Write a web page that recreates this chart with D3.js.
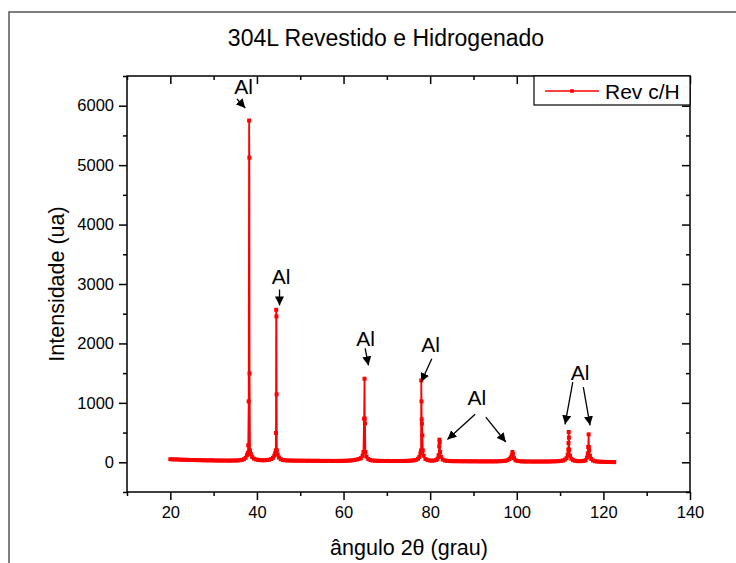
<!DOCTYPE html>
<html><head><meta charset="utf-8">
<script src="https://cdn.jsdelivr.net/npm/d3@7"></script>
<style>body{margin:0;background:#fff}svg{display:block}text{font-family:"Liberation Sans",Arial,sans-serif}</style>
</head><body>
<script>
// ---- data ----
const title = "304L Revestido e Hidrogenado";
const xLabel = "ângulo 2θ (grau)";
const yLabel = "Intensidade (ua)";
const seriesName = "Rev c/H";
const xMajorTicks = [20, 40, 60, 80, 100, 120, 140];
const yMajorTicks = [0, 1000, 2000, 3000, 4000, 5000, 6000];

const angles = [
 20,20.5,21,21.5,22,22.5,23,23.5,24,24.5,25,25.5,26,26.5,27,27.5,28,28.5,29,29.5,
 30,30.5,31,31.5,32,32.5,33,33.5,34,34.5,35,35.5,36,36.5,37,37.4,37.7,37.9,38.0,38.1,
 38.2,38.25,38.3,38.4,38.6,38.9,39.3,39.8,40.3,40.8,41.3,41.8,42.3,42.8,43.3,43.7,44.0,44.2,44.35,44.4,
 44.45,44.5,44.55,44.6,44.8,45.1,45.5,46,46.5,47,47.5,48,48.5,49,49.5,50,50.5,51,51.5,52,
 52.5,53,53.5,54,54.5,55,55.5,56,56.5,57,57.5,58,58.5,59,59.5,60,60.5,61,61.5,62,
 62.5,63,63.5,64,64.4,64.6,64.75,64.85,64.9,64.95,65.05,65.3,65.7,66.2,66.7,67.2,67.7,68.2,68.7,69.2,
 69.7,70.2,70.7,71.2,71.7,72.2,72.7,73.2,73.7,74.2,74.7,75.2,75.7,76.2,76.7,77.2,77.5,77.75,77.9,77.95,
 78.0,78.05,78.1,78.2,78.3,78.5,78.9,79.4,79.9,80.4,80.9,81.4,81.7,81.95,82.1,82.15,82.2,82.3,82.5,82.9,
 83.4,83.9,84.4,84.9,85.4,85.9,86.4,86.9,87.4,87.9,88.4,88.9,89.4,89.9,90.4,90.9,91.4,91.9,92.4,92.9,
 93.4,93.9,94.4,94.9,95.4,95.9,96.4,96.9,97.4,97.9,98.3,98.6,98.85,99.0,99.1,99.35,99.7,100.2,100.7,101.2,
 101.7,102.2,102.7,103.2,103.7,104.2,104.7,105.2,105.7,106.2,106.7,107.2,107.7,108.2,108.7,109.2,109.7,110.2,110.7,111.1,
 111.5,111.75,111.9,111.95,112.0,112.05,112.1,112.3,112.6,113.0,113.5,114.0,114.5,115.0,115.5,115.9,116.2,116.4,116.5,116.6,
 116.65,116.7,116.9,117.2,117.6,118.1,118.6,119.1,119.6,120.1,120.6,121.1,121.6,122.1,122.5
];
const intensity = [
 52,50,47,49,45,44,42,43,40,39,38,39,36,37,35,34,34,33,32,33,
 31,30,30,29,29,30,28,29,28,30,30,32,35,40,52,75,120,160,286,1025,
 5750,5126,1496,200,140,90,62,48,40,36,34,35,38,42,55,75,110,150,200,493,
 2566,2454,1143,200,130,80,52,38,34,31,30,29,28,27,28,26,27,26,25,26,
 25,24,25,24,25,23,24,23,24,23,22,23,22,24,23,24,25,27,30,33,
 38,45,55,70,110,173,735,1406,734,655,173,95,55,38,30,27,25,24,23,22,
 22,23,21,22,21,22,21,22,22,23,24,26,28,33,40,60,90,150,200,1378,
 1025,722,650,454,200,110,55,38,30,27,30,38,60,120,269,381,341,173,90,45,
 30,24,22,20,19,18,19,18,17,18,17,16,17,16,17,16,15,16,15,16,
 15,16,15,16,17,18,19,22,26,35,55,80,118,173,140,70,35,22,18,15,
 14,13,14,13,12,13,12,13,12,13,14,13,14,15,16,18,20,24,30,45,
 70,130,213,324,510,415,213,110,60,35,25,20,19,20,24,35,80,150,257,470,
 257,200,110,55,30,18,12,10,8,7,6,5,5,4,3
];

// annotations: label centre and arrows (from -> to), in data units
const annotations = [
 {text: "Al", at: [36.95, 6330], arrows: [[[35.4, 6113], [37.3, 5961]]]},
 {text: "Al", at: [45.61, 3134], arrows: [[[45.22, 2908], [45.22, 2639]]]},
 {text: "Al", at: [65.11, 2092], arrows: [[[64.99, 1916], [65.76, 1630]]]},
 {text: "Al", at: [80.11, 1983], arrows: [[[80.38, 1743], [77.92, 1350]]]},
 {text: "Al", at: [90.77, 1092], arrows: [[[90.38, 807], [83.99, 382]], [[92.85, 761], [97.46, 341]]]},
 {text: "Al", at: [114.61, 1521], arrows: [[[112.93, 1350], [111.15, 639]], [[115.37, 1266], [116.92, 622]]]}
];

// ---- drawing ----
const W = 736, H = 563;
const L = 127, R = 690, T = 76, B = 492;
const svg = d3.select("body").append("svg").attr("width", W).attr("height", H);

// outer frame
svg.append("rect").attr("x", 9).attr("y", 12).attr("width", W).attr("height", H)
  .attr("fill", "none").attr("stroke", "#555").attr("stroke-width", 1.5);

const x = d3.scaleLinear().domain([10, 140]).range([L, R]);
const y = d3.scaleLinear().domain([-500, 6500]).range([B, T]);

const fontTick = 16.5;
const xMinor = d3.range(10, 141, 10).filter(v => !xMajorTicks.includes(v));
const yMinor = d3.range(-500, 6501, 500).filter(v => !yMajorTicks.includes(v));

function axisG(axis, tx, ty) {
  const g = svg.append("g").attr("transform", `translate(${tx},${ty})`).call(axis);
  g.select(".domain").remove();
  g.selectAll("line").attr("stroke", "#000").attr("stroke-width", 1.5);
  g.selectAll("text").attr("font-size", fontTick).attr("fill", "#000")
    .style("font-family", '"Liberation Sans",Arial,sans-serif');
  return g;
}
// bottom
axisG(d3.axisBottom(x).tickValues(xMajorTicks).tickSize(8).tickPadding(6).tickFormat(d3.format("d")), 0, B);
axisG(d3.axisBottom(x).tickValues(xMinor).tickSize(4).tickFormat(""), 0, B);
// top (inward)
axisG(d3.axisBottom(x).tickValues(xMajorTicks).tickSize(8).tickFormat(""), 0, T);
axisG(d3.axisBottom(x).tickValues(xMinor).tickSize(4).tickFormat(""), 0, T);
// left
axisG(d3.axisLeft(y).tickValues(yMajorTicks).tickSize(8).tickPadding(5).tickFormat(d3.format("d")), L, 0);
axisG(d3.axisLeft(y).tickValues(yMinor).tickSize(4).tickFormat(""), L, 0);
// right (inward)
axisG(d3.axisLeft(y).tickValues(yMajorTicks).tickSize(8).tickFormat(""), R, 0);
axisG(d3.axisLeft(y).tickValues(yMinor).tickSize(4).tickFormat(""), R, 0);

// frame of plot
svg.append("rect").attr("x", L).attr("y", T).attr("width", R - L).attr("height", B - T)
  .attr("fill", "none").attr("stroke", "#000").attr("stroke-width", 1.5);

// series
const pts = angles.map((a, i) => [a, intensity[i]]);
const line = d3.line().x(d => x(d[0])).y(d => y(d[1]));
svg.append("path").datum(pts).attr("d", line).attr("fill", "none")
  .attr("stroke", "#ff0000").attr("stroke-width", 1.8);
const ms = 4;
svg.append("g").selectAll("rect").data(pts).join("rect")
  .attr("x", d => x(d[0]) - ms / 2).attr("y", d => y(d[1]) - ms / 2)
  .attr("width", ms).attr("height", ms).attr("fill", "#ff0000");

// annotations
const defs = svg.append("defs");
defs.append("marker").attr("id", "ah").attr("viewBox", "0 0 10 10").attr("refX", 10).attr("refY", 5)
  .attr("markerWidth", 9).attr("markerHeight", 9).attr("markerUnits", "userSpaceOnUse").attr("orient", "auto")
  .append("path").attr("d", "M0,0 L10,5 L0,10 Z").attr("fill", "#000");
annotations.forEach(a => {
  svg.append("text").attr("x", x(a.at[0])).attr("y", y(a.at[1]) + 7.8)
    .attr("text-anchor", "middle").attr("font-size", 21).text(a.text);
  a.arrows.forEach(ar => {
    svg.append("line").attr("x1", x(ar[0][0])).attr("y1", y(ar[0][1]))
      .attr("x2", x(ar[1][0])).attr("y2", y(ar[1][1]))
      .attr("stroke", "#000").attr("stroke-width", 1.3).attr("marker-end", "url(#ah)");
  });
});

// legend
const lg = svg.append("g");
lg.append("rect").attr("x", 534).attr("y", T).attr("width", R - 534).attr("height", 29)
  .attr("fill", "#fff").attr("stroke", "#000").attr("stroke-width", 1.2);
lg.append("line").attr("x1", 545).attr("x2", 599).attr("y1", 91).attr("y2", 91)
  .attr("stroke", "#ff0000").attr("stroke-width", 1.5);
lg.append("rect").attr("x", 572 - 1.8).attr("y", 91 - 1.8).attr("width", 3.6).attr("height", 3.6).attr("fill", "#ff0000");
lg.append("text").attr("x", 605).attr("y", 99).attr("font-size", 21).text(seriesName);

// titles
svg.append("text").attr("x", 386).attr("y", 46).attr("text-anchor", "middle").attr("font-size", 23).text(title);
svg.append("text").attr("x", 409).attr("y", 555).attr("text-anchor", "middle").attr("font-size", 21.5).text(xLabel);
svg.append("text").attr("transform", "translate(64,284) rotate(-90)").attr("text-anchor", "middle")
  .attr("font-size", 21.5).text(yLabel);
</script>
</body></html>
